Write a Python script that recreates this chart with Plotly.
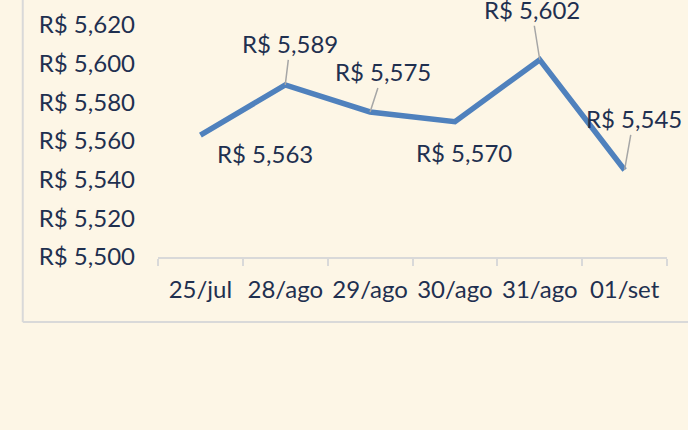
import plotly.graph_objects as go

categories = ["25/jul", "28/ago", "29/ago", "30/ago", "31/ago", "01/set"]
values = [5563, 5589, 5575, 5570, 5602, 5545]
y_ticks = [5500, 5520, 5540, 5560, 5580, 5600, 5620]
y_tick_text = ["R$ {:,}".format(v) for v in y_ticks]

BG = "#FDF6E6"
TXT = "#1F3050"
GRID = "#D9D9D9"
FONT = "Lato"

fig = go.Figure()
fig.add_trace(go.Scatter(
    x=categories, y=values, mode="lines",
    line=dict(color="#4F81BD", width=5.5),
    hoverinfo="skip",
))

# label placement offsets (pixels) and whether a leader line is drawn
label_cfg = [
    (65, 18, False),
    (5, -41, True),
    (13, -40, True),
    (9, 31, False),
    (-8, -50, True),
    (9, -51, True),
]
for cat, val, (dx, dy, leader) in zip(categories, values, label_cfg):
    text = "R$ {:,}".format(val)
    if leader:
        fig.add_annotation(
            x=cat, y=val, text=text, showarrow=True, arrowhead=0,
            arrowwidth=1.5, arrowcolor="#A6A6A6", ax=dx, ay=dy,
            font=dict(family=FONT, size=24, color=TXT),
        )
    else:
        fig.add_annotation(
            x=cat, y=val, text=text, showarrow=False,
            xshift=dx, yshift=-dy,
            font=dict(family=FONT, size=24, color=TXT),
        )

# outer chart-area border (left and bottom edges)
fig.add_shape(type="line", xref="paper", yref="paper",
              x0=-0.2657, x1=-0.2657, y0=-0.2529, y1=1.2,
              line=dict(color=GRID, width=2))
fig.add_shape(type="line", xref="paper", yref="paper",
              x0=-0.2657, x1=1.2, y0=-0.2529, y1=-0.2529,
              line=dict(color=GRID, width=2))

fig.update_layout(
    width=688, height=430,
    margin=dict(l=158, r=21, t=0, b=173, autoexpand=False),
    paper_bgcolor=BG, plot_bgcolor=BG,
    showlegend=False,
    font=dict(family=FONT, color=TXT, size=24),
    xaxis=dict(
        type="category", range=[-0.5, 5.5],
        tickson="boundaries", ticks="outside", ticklen=7,
        tickcolor=GRID, tickwidth=2, tickangle=0,
        ticklabelstandoff=10,
        showline=True, linecolor=GRID, linewidth=2,
        showgrid=False, zeroline=False,
        tickfont=dict(family=FONT, size=24, color=TXT),
        automargin=False,
    ),
    yaxis=dict(
        range=[5500, 5632.9], tickvals=y_ticks, ticktext=y_tick_text,
        showline=False, showgrid=False, zeroline=False,
        ticks="", ticklabelstandoff=22,
        tickfont=dict(family=FONT, size=24, color=TXT),
        automargin=False,
    ),
)

fig.write_html(
    "out.html",
    config={"displayModeBar": False},
    post_script="document.body.style.margin='0px';document.body.style.overflow='hidden';document.body.style.background='" + BG + "';",
)
